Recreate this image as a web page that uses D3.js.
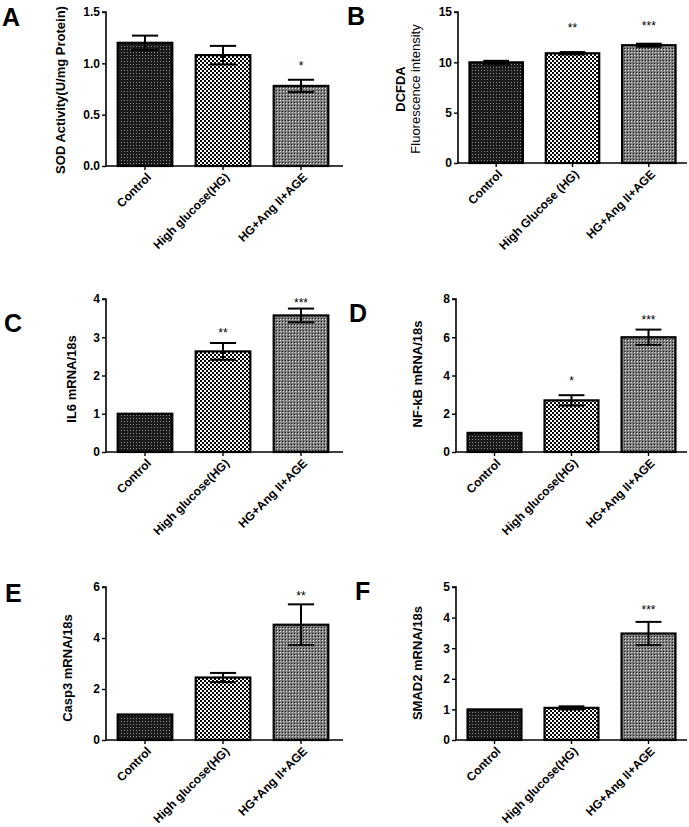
<!DOCTYPE html>
<html>
<head>
<meta charset="utf-8">
<script src="https://cdn.jsdelivr.net/npm/d3@7"></script>
<style>
  html, body { margin: 0; padding: 0; background: #fff; }
  svg { display: block; }
  text { font-family: "Liberation Sans", Arial, sans-serif; fill: #000; }
</style>
</head>
<body>
<svg id="chart" width="689" height="827"></svg>
<script>
// ---------------- DATA ----------------
const categoriesMain = ["Control", "High glucose(HG)", "HG+Ang II+AGE"];
const categoriesB = ["Control", "High Glucose (HG)", "HG+Ang II+AGE"];

const sodMean = [1.20, 1.08, 0.78];
const sodErr = [0.07, 0.09, 0.06];
const sodStars = ["", "", "*"];
const sodStarPos = [0, 0, 1.0];
const sodTicks = [0, 0.5, 1.0, 1.5];

const dcfdaMean = [10.0, 10.9, 11.7];
const dcfdaErr = [0.15, 0.12, 0.15];
const dcfdaStars = ["", "**", "***"];
const dcfdaStarPos = [0, 13.7, 13.9];
const dcfdaTicks = [0, 5, 10, 15];

const il6Mean = [1.0, 2.63, 3.57];
const il6Err = [0, 0.22, 0.18];
const il6Stars = ["", "**", "***"];
const il6StarPos = [0, 3.19, 3.97];
const il6Ticks = [0, 1, 2, 3, 4];

const nfkbMean = [1.0, 2.70, 6.00];
const nfkbErr = [0, 0.27, 0.40];
const nfkbStars = ["", "*", "***"];
const nfkbStarPos = [0, 3.87, 7.06];
const nfkbTicks = [0, 2, 4, 6, 8];

const casp3Mean = [1.0, 2.45, 4.52];
const casp3Err = [0, 0.18, 0.80];
const casp3Stars = ["", "", "**"];
const casp3StarPos = [0, 0, 5.76];
const casp3Ticks = [0, 2, 4, 6];

const smad2Mean = [1.0, 1.05, 3.48];
const smad2Err = [0, 0.05, 0.38];
const smad2Stars = ["", "", "***"];
const smad2StarPos = [0, 0, 4.35];
const smad2Ticks = [0, 1, 2, 3, 4, 5];

// ---------------- DRAWING ----------------
const svg = d3.select("#chart");
const defs = svg.append("defs");

// Control: dark with gray dots
const p1 = defs.append("pattern").attr("id", "pControl").attr("patternUnits", "userSpaceOnUse")
  .attr("width", 3).attr("height", 3);
p1.append("rect").attr("width", 3).attr("height", 3).attr("fill", "#1b1b1b");
p1.append("rect").attr("x", 1).attr("y", 1).attr("width", 1).attr("height", 1).attr("fill", "#8c8c8c");

// HG: black/white checkerboard
const p2 = defs.append("pattern").attr("id", "pHG").attr("patternUnits", "userSpaceOnUse")
  .attr("width", 4).attr("height", 4);
p2.append("rect").attr("width", 4).attr("height", 4).attr("fill", "#fff");
p2.append("rect").attr("width", 2).attr("height", 2).attr("fill", "#000");
p2.append("rect").attr("x", 2).attr("y", 2).attr("width", 2).attr("height", 2).attr("fill", "#000");

// HG+Ang: fine gray texture
const p3 = defs.append("pattern").attr("id", "pAng").attr("patternUnits", "userSpaceOnUse")
  .attr("width", 3).attr("height", 3);
p3.append("rect").attr("width", 3).attr("height", 3).attr("fill", "#7c7c7c");
p3.append("rect").attr("x", 0).attr("y", 0).attr("width", 1).attr("height", 1).attr("fill", "#1e1e1e");
p3.append("rect").attr("x", 1).attr("y", 1).attr("width", 1).attr("height", 1).attr("fill", "#dcdcdc");

const fills = ["url(#pControl)", "url(#pHG)", "url(#pAng)"];

function drawPanel(cfg) {
  const g = svg.append("g");
  const y = d3.scaleLinear().domain([0, cfg.ticks[cfg.ticks.length - 1]]).range([cfg.bottom, cfg.top]);
  const x = d3.scaleBand().domain(cfg.categories).range([cfg.left, cfg.right])
    .paddingInner(0.3).paddingOuter(0.15);

  // bars
  g.selectAll("rect.bar").data(cfg.categories).enter().append("rect")
    .attr("class", "bar")
    .attr("x", d => x(d))
    .attr("width", x.bandwidth())
    .attr("y", (d, i) => y(cfg.mean[i]))
    .attr("height", (d, i) => y(0) - y(cfg.mean[i]))
    .attr("fill", (d, i) => fills[i])
    .attr("stroke", "#000").attr("stroke-width", 2.2);

  // error bars
  const capW = x.bandwidth() * 0.24;
  cfg.categories.forEach((c, i) => {
    if (!cfg.err[i]) return;
    const cx = x(c) + x.bandwidth() / 2;
    const hi = y(cfg.mean[i] + cfg.err[i]);
    const lo = y(cfg.mean[i] - cfg.err[i]);
    g.append("line").attr("x1", cx).attr("x2", cx).attr("y1", hi).attr("y2", lo)
      .attr("stroke", "#000").attr("stroke-width", 2);
    g.append("line").attr("x1", cx - capW).attr("x2", cx + capW).attr("y1", hi).attr("y2", hi)
      .attr("stroke", "#000").attr("stroke-width", 2);
    g.append("line").attr("x1", cx - capW).attr("x2", cx + capW).attr("y1", lo).attr("y2", lo)
      .attr("stroke", "#000").attr("stroke-width", 2);
  });

  // stars
  cfg.categories.forEach((c, i) => {
    if (!cfg.stars[i]) return;
    g.append("text")
      .attr("x", x(c) + x.bandwidth() / 2)
      .attr("y", y(cfg.starPos[i]) + 7)
      .attr("text-anchor", "middle")
      .attr("font-size", 12)
      .text(cfg.stars[i]);
  });

  // y axis
  const yAxis = d3.axisLeft(y).tickValues(cfg.ticks).tickSize(4).tickPadding(2)
    .tickFormat(cfg.format);
  const ya = g.append("g").attr("transform", `translate(${cfg.left},0)`).call(yAxis);
  ya.select(".domain").attr("stroke-width", 1.6).attr("d", `M-4,${cfg.top}H0V${cfg.bottom}`);
  ya.selectAll(".tick line").attr("stroke-width", 1.4);
  ya.selectAll(".tick text").attr("font-size", 12).attr("font-weight", "bold")
    .attr("font-family", "'Liberation Sans', Arial, sans-serif");

  // x axis
  const xAxis = d3.axisBottom(x).tickSize(4).tickFormat("");
  const xa = g.append("g").attr("transform", `translate(0,${cfg.bottom})`).call(xAxis);
  xa.select(".domain").attr("stroke-width", 1.6).attr("d", `M${cfg.left},0H${cfg.axisEnd}`);
  xa.selectAll(".tick line").attr("stroke-width", 1.4);

  // rotated category labels
  cfg.categories.forEach(c => {
    const cx = x(c) + x.bandwidth() / 2 + 4;
    const cy = cfg.bottom + 9;
    g.append("text")
      .attr("transform", `translate(${cx},${cy}) rotate(-45)`)
      .attr("text-anchor", "end")
      .attr("font-size", 12)
      .attr("font-weight", "bold")
      .attr("dy", "0.35em")
      .text(c);
  });

  // y title
  const t = g.append("text")
    .attr("transform", `translate(${cfg.titleX},${cfg.titleY}) rotate(-90)`)
    .attr("text-anchor", "middle")
    .attr("font-size", 13);
  cfg.title.forEach((line, k) => {
    t.append("tspan").attr("x", 0)
      .attr("font-weight", cfg.titleWeights[k])
      .attr("dy", k === 0 ? `${-(cfg.title.length - 1) * 0.6 + 0.35}em` : "1.2em").text(line);
  });

  // panel letter
  g.append("text")
    .attr("x", cfg.letterX).attr("y", cfg.letterY)
    .attr("font-family", "'DejaVu Sans', sans-serif")
    .attr("font-size", 25).attr("font-weight", "bold")
    .text(cfg.letter);
}

const fmt1 = d3.format(".1f");
const fmt0 = d3.format("d");

drawPanel({ letter: "A", letterX: 2, letterY: 26, categories: categoriesMain,
  mean: sodMean, err: sodErr, stars: sodStars, starPos: sodStarPos, ticks: sodTicks, format: fmt1,
  left: 106, right: 340, axisEnd: 343, top: 12, bottom: 166,
  title: ["SOD Activity(U/mg Protein)"], titleWeights: ["bold"], titleX: 60, titleY: 90 });

drawPanel({ letter: "B", letterX: 347, letterY: 25, categories: categoriesB,
  mean: dcfdaMean, err: dcfdaErr, stars: dcfdaStars, starPos: dcfdaStarPos, ticks: dcfdaTicks, format: fmt0,
  left: 458, right: 687, axisEnd: 687, top: 12, bottom: 163,
  title: ["DCFDA", "Fluorescence intensity"], titleWeights: ["bold", "normal"], titleX: 408, titleY: 89 });

drawPanel({ letter: "C", letterX: 4, letterY: 332, categories: categoriesMain,
  mean: il6Mean, err: il6Err, stars: il6Stars, starPos: il6StarPos, ticks: il6Ticks, format: fmt0,
  left: 106, right: 340, axisEnd: 343, top: 299, bottom: 452,
  title: ["IL6 mRNA/18s"], titleWeights: ["bold"], titleX: 71, titleY: 379 });

drawPanel({ letter: "D", letterX: 349, letterY: 322, categories: categoriesMain,
  mean: nfkbMean, err: nfkbErr, stars: nfkbStars, starPos: nfkbStarPos, ticks: nfkbTicks, format: fmt0,
  left: 456, right: 687, axisEnd: 687, top: 299, bottom: 452,
  title: ["NF-kB mRNA/18s"], titleWeights: ["bold"], titleX: 417, titleY: 374 });

drawPanel({ letter: "E", letterX: 5, letterY: 602, categories: categoriesMain,
  mean: casp3Mean, err: casp3Err, stars: casp3Stars, starPos: casp3StarPos, ticks: casp3Ticks, format: fmt0,
  left: 106, right: 340, axisEnd: 343, top: 587, bottom: 740,
  title: ["Casp3 mRNA/18s"], titleWeights: ["bold"], titleX: 67, titleY: 668 });

drawPanel({ letter: "F", letterX: 355, letterY: 600, categories: categoriesMain,
  mean: smad2Mean, err: smad2Err, stars: smad2Stars, starPos: smad2StarPos, ticks: smad2Ticks, format: fmt0,
  left: 456, right: 687, axisEnd: 687, top: 587, bottom: 740,
  title: ["SMAD2 mRNA/18s"], titleWeights: ["bold"], titleX: 417, titleY: 663 });
</script>
</body>
</html>
